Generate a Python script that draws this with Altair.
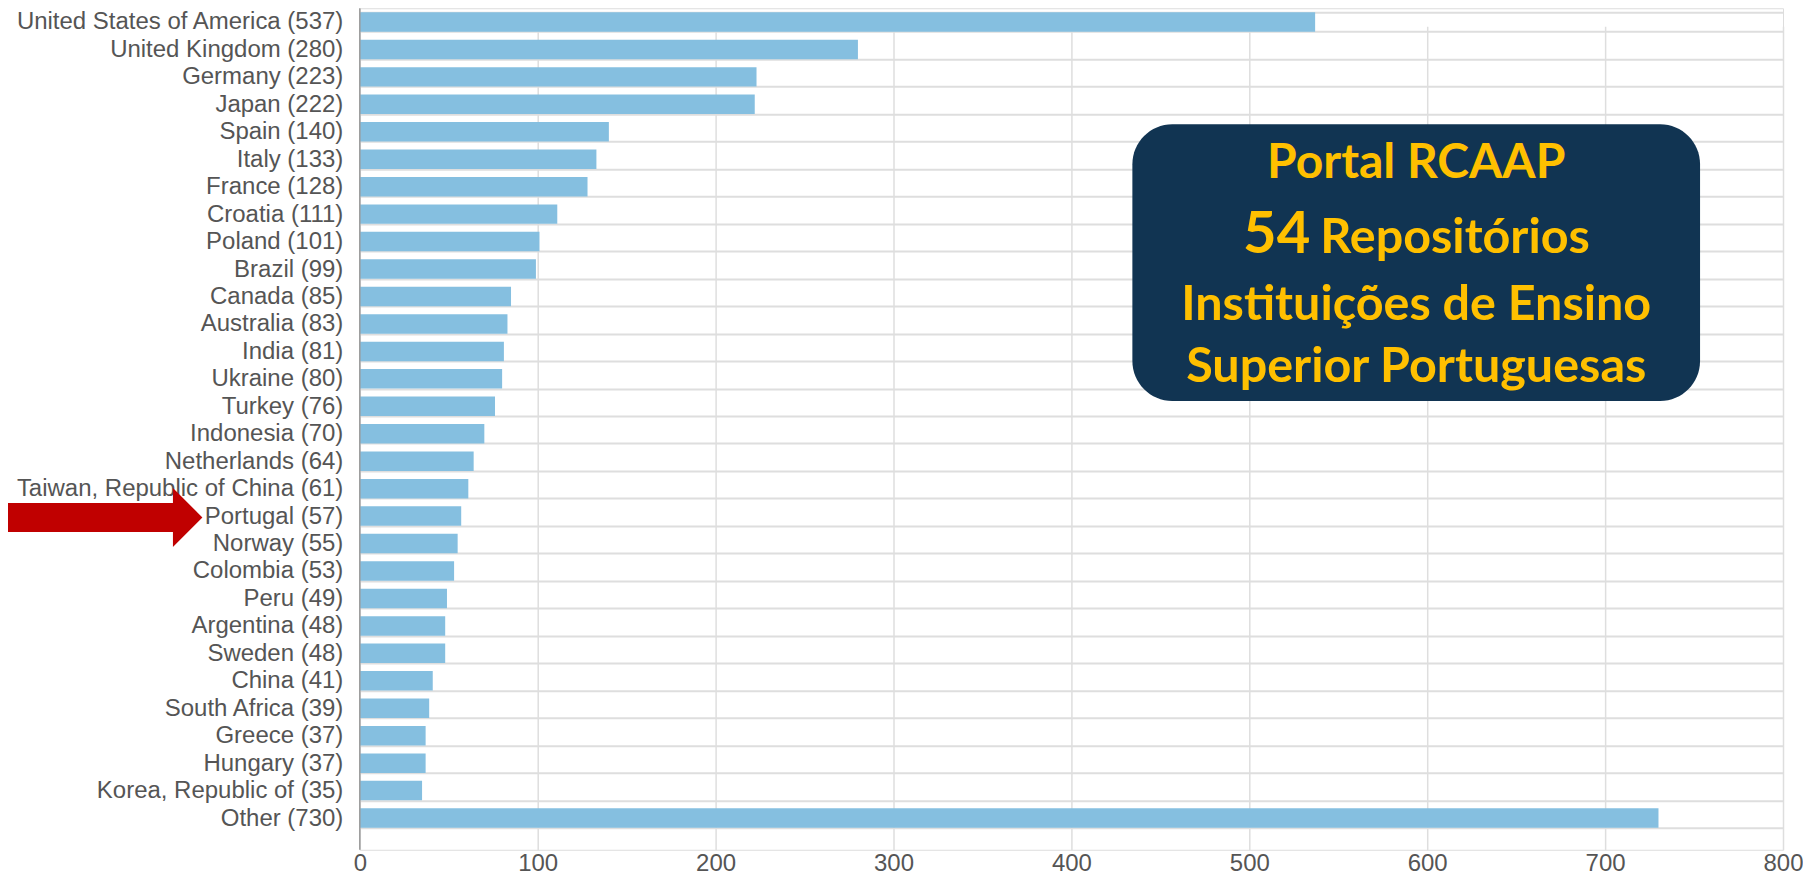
import altair as alt
import pandas as pd

countries = [
    "United States of America", "United Kingdom", "Germany", "Japan", "Spain",
    "Italy", "France", "Croatia", "Poland", "Brazil", "Canada", "Australia",
    "India", "Ukraine", "Turkey", "Indonesia", "Netherlands",
    "Taiwan, Republic of China", "Portugal", "Norway", "Colombia", "Peru",
    "Argentina", "Sweden", "China", "South Africa", "Greece", "Hungary",
    "Korea, Republic of", "Other",
]
counts = [537, 280, 223, 222, 140, 133, 128, 111, 101, 99, 85, 83, 81, 80, 76,
          70, 64, 61, 57, 55, 53, 49, 48, 48, 41, 39, 37, 37, 35, 730]
x_ticks = [0, 100, 200, 300, 400, 500, 600, 700, 800]

box_lines = ["Portal RCAAP", "54", "Repositórios", "Instituições de Ensino",
             "Superior Portuguesas"]

labels = [f"{c} ({n})" for c, n in zip(countries, counts)]
df = pd.DataFrame({"label": labels, "count": counts})

W, H = 1424, 842
FONT = "Liberation Sans"

bars = alt.Chart(df).mark_bar(color="#85bfe0").encode(
    x=alt.X("count:Q",
            scale=alt.Scale(domain=[0, 800], nice=False, zero=True),
            axis=alt.Axis(values=x_ticks, title=None, domain=False, ticks=False,
                          grid=True, gridColor="#dedede", gridWidth=1.5,
                          labelFont=FONT, labelFontSize=24, labelColor="#555",
                          labelPadding=2, labelFlush=False)),
    y=alt.Y("label:N", sort=labels,
            scale=alt.Scale(range=[0, 824], paddingInner=0.29, paddingOuter=0.145),
            axis=alt.Axis(title=None, domain=False, ticks=False, grid=True,
                          tickBand="extent", gridColor="#dedede", gridWidth=2,
                          labelFont=FONT, labelFontSize=24, labelColor="#555",
                          labelPadding=17, labelLimit=500)),
)

one = pd.DataFrame({"a": [0]})

yaxis_line = alt.Chart(one).mark_rule(color="#9a9a9a", strokeWidth=1.5).encode(
    x=alt.value(0), y=alt.value(0), y2=alt.value(H))

box = alt.Chart(one).mark_rect(color="#113452", cornerRadius=40).encode(
    x=alt.value(773), x2=alt.value(1341), y=alt.value(116), y2=alt.value(393))

BOXFONT = "Lato"
YEL = "#ffc000"
BS = 48.5
t1 = alt.Chart(one).mark_text(text=box_lines[0], font=BOXFONT, fontWeight="bold",
                              fontSize=48, color=YEL, align="center",
                              baseline="alphabetic").encode(
    x=alt.value(1057), y=alt.value(170))
t2a = alt.Chart(one).mark_text(text=box_lines[1], font=BOXFONT, fontWeight="bold",
                               fontSize=58, color=YEL, align="right",
                               baseline="alphabetic").encode(
    x=alt.value(951), y=alt.value(245))
t2b = alt.Chart(one).mark_text(text=box_lines[2], font=BOXFONT, fontWeight="bold",
                               fontSize=BS, color=YEL, align="left",
                               baseline="alphabetic").encode(
    x=alt.value(961), y=alt.value(245))
t3 = alt.Chart(one).mark_text(text=box_lines[3], font=BOXFONT, fontWeight="bold",
                              fontSize=BS, color=YEL, align="center",
                              baseline="alphabetic").encode(
    x=alt.value(1057), y=alt.value(312))
t4 = alt.Chart(one).mark_text(text=box_lines[4], font=BOXFONT, fontWeight="bold",
                              fontSize=BS, color=YEL, align="center",
                              baseline="alphabetic").encode(
    x=alt.value(1057), y=alt.value(374))

shaft = alt.Chart(one).mark_rect(color="#c00000").encode(
    x=alt.value(-360), x2=alt.value(-186), y=alt.value(495), y2=alt.value(524))
head = alt.Chart(one).mark_point(shape="M-0.5,-1L0.5,0L-0.5,1Z", filled=True,
                                 color="#c00000", opacity=1, size=3481,
                                 strokeWidth=0).encode(
    x=alt.value(-172.25), y=alt.value(509.5))

chart = alt.layer(bars, yaxis_line, box, t1, t2a, t2b, t3, t4, shaft, head).properties(
    width=W, height=H,
    autosize=alt.AutoSizeParams(type="none"),
    padding={"left": 352, "top": 0, "right": 20, "bottom": 30},
).configure_view(stroke=None).configure(background="white")

chart.save("out.html", embed_options={"renderer": "svg", "actions": False})
